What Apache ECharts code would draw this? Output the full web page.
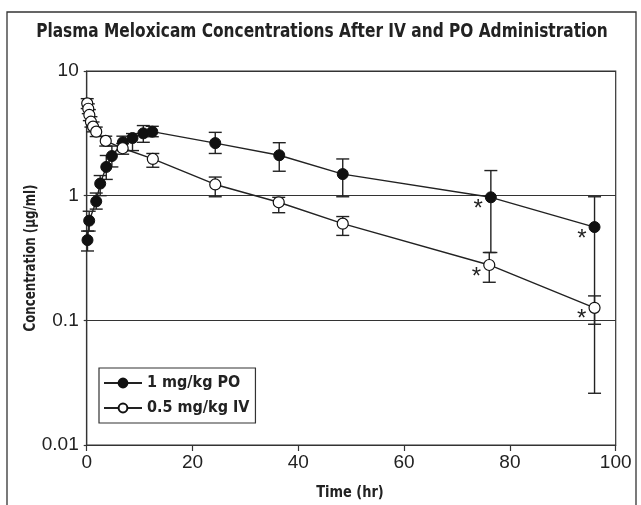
<!DOCTYPE html>
<html><head><meta charset="utf-8">
<script src="https://cdn.jsdelivr.net/npm/echarts@6/dist/echarts.min.js"></script>
<style>html,body{margin:0;padding:0;background:#fff}#c{width:641px;height:505px}</style>
</head><body><div id="c"></div>
<script>
// ---- data ----
const poTime  = [0.15, 0.47, 1.8, 2.55, 3.7, 4.76, 6.84, 8.66, 10.7, 12.4, 24.3, 36.4, 48.4, 76.4, 96.0];
const poConc  = [0.44, 0.63, 0.90, 1.25, 1.70, 2.08, 2.68, 2.90, 3.16, 3.26, 2.64, 2.11, 1.49, 0.97, 0.56];
const poUpper = [0.52, 0.75, 1.05, 1.45, 2.10, 2.50, 3.00, 3.15, 3.65, 3.60, 3.22, 2.66, 1.97, 1.59, 0.98];
const poLower = [0.36, 0.52, 0.78, 1.00, 1.35, 1.70, 2.30, 2.30, 2.68, 2.97, 2.18, 1.57, 0.98, 0.35, 0.026];
const poStar  = [13, 14];

const ivTime  = [0.1, 0.3, 0.5, 0.8, 1.2, 1.8, 3.6, 6.8, 12.5, 24.3, 36.3, 48.4, 76.1, 96.0];
const ivConc  = [5.50, 4.98, 4.44, 3.92, 3.58, 3.26, 2.75, 2.40, 1.97, 1.23, 0.885, 0.596, 0.278, 0.126];
const ivUpper = [6.00, 5.45, 4.90, 4.30, 3.90, 3.55, 3.00, 2.62, 2.18, 1.41, 0.97, 0.68, 0.35, 0.157];
const ivLower = [5.00, 4.55, 4.00, 3.55, 3.25, 2.98, 2.50, 2.15, 1.69, 0.98, 0.73, 0.48, 0.202, 0.093];
const ivStar  = [12, 13];

const xTicks = [0, 20, 40, 60, 80, 100];
const yTicks = [0.01, 0.1, 1, 10];
const seriesNames = ['1 mg/kg PO', '0.5 mg/kg IV'];
const titleText = 'Plasma Meloxicam Concentrations After IV and PO Administration';
const xName = 'Time (hr)';
const yName = 'Concentration (µg/ml)';

// ---- chart ----
const NARROW = "'Liberation Sans Narrow','DejaVu Sans Condensed','Roboto Condensed',sans-serif";
const REG = "'Liberation Sans',Arial,sans-serif";
const INK = '#222';

const chart = echarts.init(document.getElementById('c'), null, {renderer: 'canvas'});

function pts(t, c, stars) {
  return t.map((x, i) => {
    const item = {value: [x, c[i]]};
    if (stars.includes(i)) {
      item.label = {show: true, formatter: '*', position: 'left', offset: [3, 12],
        fontSize: 24, color: INK, fontFamily: REG};
    }
    return item;
  });
}
function bars(t, hi, lo) { return t.map((x, i) => [x, hi[i], lo[i]]); }

function errRender(params, api) {
  const x = api.value(0);
  const pHi = api.coord([x, api.value(1)]);
  const pLo = api.coord([x, api.value(2)]);
  const w = 6.5;
  const st = {stroke: INK, lineWidth: 1.4};
  return {type: 'group', children: [
    {type: 'line', shape: {x1: pHi[0], y1: pHi[1], x2: pLo[0], y2: pLo[1]}, style: st},
    {type: 'line', shape: {x1: pHi[0] - w, y1: pHi[1], x2: pHi[0] + w, y2: pHi[1]}, style: st},
    {type: 'line', shape: {x1: pLo[0] - w, y1: pLo[1], x2: pLo[0] + w, y2: pLo[1]}, style: st}
  ]};
}

chart.setOption({
  animation: false,
  backgroundColor: '#fff',
  graphic: [
    {type: 'rect', shape: {x: 7, y: 12, width: 629, height: 520}, style: {fill: 'none', stroke: '#333', lineWidth: 1.3}, z: -1},
    {type: 'text', x: 322, y: 32, scaleX: 0.9, style: {text: titleText, textAlign: 'center', textVerticalAlign: 'middle',
      font: "bold 19px " + NARROW, fill: INK}},
    {type: 'text', x: 350, y: 493, scaleX: 0.9, style: {text: xName, textAlign: 'center', textVerticalAlign: 'middle',
      font: "bold 16px " + NARROW, fill: INK}},
    {type: 'text', x: 31, y: 258, rotation: Math.PI / 2, scaleX: 0.82, style: {text: yName, textAlign: 'center', textVerticalAlign: 'middle',
      font: "bold 16px " + NARROW, fill: INK}}
  ],
  grid: {left: 86.7, right: 25.3, top: 71, bottom: 60, show: true, borderColor: '#333', borderWidth: 1.2},
  legend: {
    left: 99, top: 368, orient: 'vertical', itemGap: 9, itemWidth: 38, itemHeight: 11,
    padding: [7, 6, 7, 4], borderColor: '#333', borderWidth: 1.2, backgroundColor: '#fff',
    textStyle: {fontFamily: NARROW, fontWeight: 'bold', fontSize: 16, color: INK},
    data: seriesNames
  },
  xAxis: {
    type: 'value', min: xTicks[0], max: xTicks[xTicks.length - 1], interval: 20,
    axisLine: {show: true, lineStyle: {color: '#333', width: 1.2}},
    axisTick: {show: true, inside: false, length: 6, lineStyle: {color: '#333', width: 1.2}},
    axisLabel: {fontFamily: REG, fontSize: 19, color: INK, margin: 8},
    splitLine: {show: false}
  },
  yAxis: {
    type: 'log', logBase: 10, min: yTicks[0], max: yTicks[yTicks.length - 1],
    axisLine: {show: true, lineStyle: {color: '#333', width: 1.2}},
    axisTick: {show: true, inside: false, length: 3, lineStyle: {color: '#333', width: 1.2}},
    minorTick: {show: false},
    axisLabel: {fontFamily: REG, fontSize: 19, color: INK, margin: 8,
      formatter: v => String(+v.toPrecision(3))},
    splitLine: {show: true, lineStyle: {color: '#333', width: 1.2}}
  },
  series: [
    {type: 'custom', name: seriesNames[0] + ' SD', renderItem: errRender, data: bars(poTime, poUpper, poLower),
      encode: {x: 0, y: [1, 2]}, z: 2, silent: true},
    {type: 'custom', name: seriesNames[1] + ' SD', renderItem: errRender, data: bars(ivTime, ivUpper, ivLower),
      encode: {x: 0, y: [1, 2]}, z: 2, silent: true},
    {type: 'line', name: seriesNames[0], data: pts(poTime, poConc, poStar), symbol: 'circle', symbolSize: 11,
      showAllSymbol: true, lineStyle: {color: INK, width: 1.4}, itemStyle: {color: '#111', borderColor: '#111', borderWidth: 1},
      z: 3},
    {type: 'line', name: seriesNames[1], data: pts(ivTime, ivConc, ivStar), symbol: 'circle', symbolSize: 11,
      showAllSymbol: true, lineStyle: {color: INK, width: 1.4}, itemStyle: {color: '#fff', borderColor: '#111', borderWidth: 1.2},
      z: 4}
  ]
});
</script>
</body></html>
